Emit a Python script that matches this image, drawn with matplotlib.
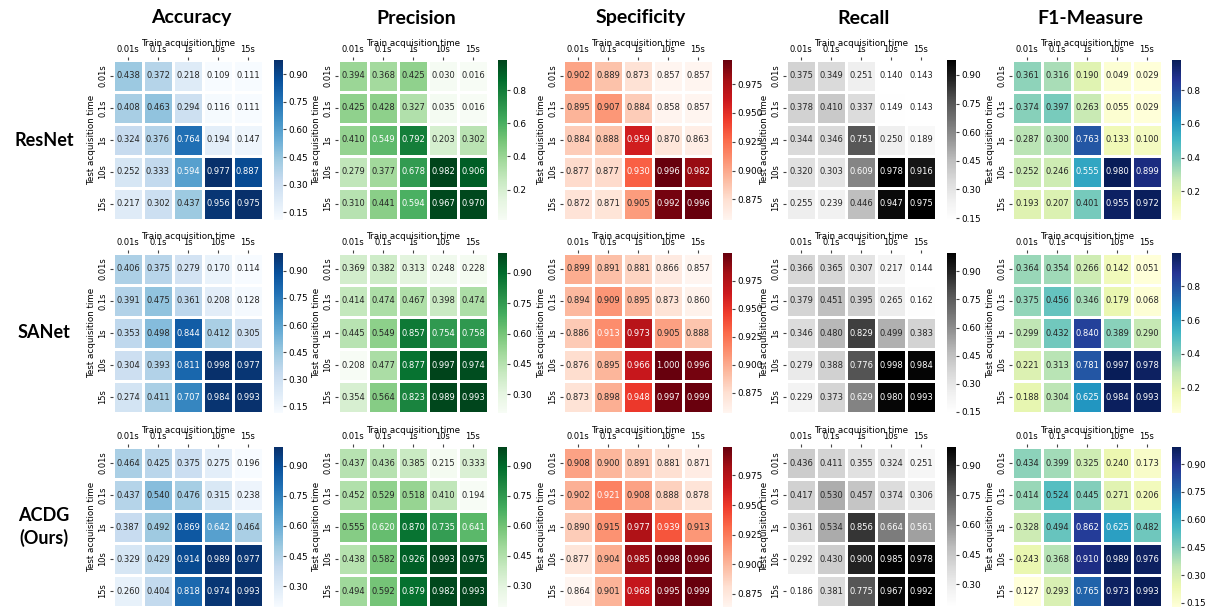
import numpy as np
import matplotlib
matplotlib.use('Agg')
import matplotlib.pyplot as plt
from matplotlib.ticker import MaxNLocator
import seaborn as sns

# ДАННЫЕ
times = ['0.01s', '0.1s', '1s', '10s', '15s']
metrics = ['Accuracy', 'Precision', 'Specificity', 'Recall', 'F1-Measure']
models = ['ResNet', 'SANet', 'ACDG\n(Ours)']
cmaps = ['Blues', 'Greens', 'Reds', 'Greys', 'YlGnBu']

resnet_acc = [[0.438, 0.372, 0.218, 0.109, 0.111],
              [0.408, 0.463, 0.294, 0.116, 0.111],
              [0.324, 0.376, 0.764, 0.194, 0.147],
              [0.252, 0.333, 0.594, 0.977, 0.887],
              [0.217, 0.302, 0.437, 0.956, 0.975]]
resnet_prec = [[0.394, 0.368, 0.425, 0.030, 0.016],
               [0.425, 0.428, 0.327, 0.035, 0.016],
               [0.410, 0.549, 0.792, 0.203, 0.302],
               [0.279, 0.377, 0.678, 0.982, 0.906],
               [0.310, 0.441, 0.594, 0.967, 0.970]]
resnet_spec = [[0.902, 0.889, 0.873, 0.857, 0.857],
               [0.895, 0.907, 0.884, 0.858, 0.857],
               [0.884, 0.888, 0.959, 0.870, 0.863],
               [0.877, 0.877, 0.930, 0.996, 0.982],
               [0.872, 0.871, 0.905, 0.992, 0.996]]
resnet_rec = [[0.375, 0.349, 0.251, 0.140, 0.143],
              [0.378, 0.410, 0.337, 0.149, 0.143],
              [0.344, 0.346, 0.751, 0.250, 0.189],
              [0.320, 0.303, 0.609, 0.978, 0.916],
              [0.255, 0.239, 0.446, 0.947, 0.975]]
resnet_f1 = [[0.361, 0.316, 0.190, 0.049, 0.029],
             [0.374, 0.397, 0.263, 0.055, 0.029],
             [0.287, 0.300, 0.763, 0.133, 0.100],
             [0.252, 0.246, 0.555, 0.980, 0.899],
             [0.193, 0.207, 0.401, 0.955, 0.972]]

sanet_acc = [[0.406, 0.375, 0.279, 0.170, 0.114],
             [0.391, 0.475, 0.361, 0.208, 0.128],
             [0.353, 0.498, 0.844, 0.412, 0.305],
             [0.304, 0.393, 0.811, 0.998, 0.977],
             [0.274, 0.411, 0.707, 0.984, 0.993]]
sanet_prec = [[0.369, 0.382, 0.313, 0.248, 0.228],
              [0.414, 0.474, 0.467, 0.398, 0.474],
              [0.445, 0.549, 0.857, 0.754, 0.758],
              [0.208, 0.477, 0.877, 0.997, 0.974],
              [0.354, 0.564, 0.823, 0.989, 0.993]]
sanet_spec = [[0.899, 0.891, 0.881, 0.866, 0.857],
              [0.894, 0.909, 0.895, 0.873, 0.860],
              [0.886, 0.913, 0.973, 0.905, 0.888],
              [0.876, 0.895, 0.966, 1.000, 0.996],
              [0.873, 0.898, 0.948, 0.997, 0.999]]
sanet_rec = [[0.366, 0.365, 0.307, 0.217, 0.144],
             [0.379, 0.451, 0.395, 0.265, 0.162],
             [0.346, 0.480, 0.829, 0.499, 0.383],
             [0.279, 0.388, 0.776, 0.998, 0.984],
             [0.229, 0.373, 0.629, 0.980, 0.993]]
sanet_f1 = [[0.364, 0.354, 0.266, 0.142, 0.051],
            [0.375, 0.456, 0.346, 0.179, 0.068],
            [0.299, 0.432, 0.840, 0.389, 0.290],
            [0.221, 0.313, 0.781, 0.997, 0.978],
            [0.188, 0.304, 0.625, 0.984, 0.993]]

acdg_acc = [[0.464, 0.425, 0.375, 0.275, 0.196],
            [0.437, 0.540, 0.476, 0.315, 0.238],
            [0.387, 0.492, 0.869, 0.642, 0.464],
            [0.329, 0.429, 0.914, 0.989, 0.977],
            [0.260, 0.404, 0.818, 0.974, 0.993]]
acdg_prec = [[0.437, 0.436, 0.385, 0.215, 0.333],
             [0.452, 0.529, 0.518, 0.410, 0.194],
             [0.555, 0.620, 0.870, 0.735, 0.641],
             [0.438, 0.582, 0.926, 0.993, 0.975],
             [0.494, 0.592, 0.879, 0.982, 0.993]]
acdg_spec = [[0.908, 0.900, 0.891, 0.881, 0.871],
             [0.902, 0.921, 0.908, 0.888, 0.878],
             [0.890, 0.915, 0.977, 0.939, 0.913],
             [0.877, 0.904, 0.985, 0.998, 0.996],
             [0.864, 0.901, 0.968, 0.995, 0.999]]
acdg_rec = [[0.436, 0.411, 0.355, 0.324, 0.251],
            [0.417, 0.530, 0.457, 0.374, 0.306],
            [0.361, 0.534, 0.856, 0.664, 0.561],
            [0.292, 0.430, 0.900, 0.985, 0.978],
            [0.186, 0.381, 0.775, 0.967, 0.992]]
acdg_f1 = [[0.434, 0.399, 0.325, 0.240, 0.173],
           [0.414, 0.524, 0.445, 0.271, 0.206],
           [0.328, 0.494, 0.862, 0.625, 0.482],
           [0.243, 0.368, 0.910, 0.989, 0.976],
           [0.127, 0.293, 0.765, 0.973, 0.993]]

tables = [[resnet_acc, resnet_prec, resnet_spec, resnet_rec, resnet_f1],
          [sanet_acc, sanet_prec, sanet_spec, sanet_rec, sanet_f1],
          [acdg_acc, acdg_prec, acdg_spec, acdg_rec, acdg_f1]]

# РАЗМЕТКА (в пикселях)
W, H = 1215, 610
hm_left = [113, 338, 563, 786, 1012]
cb_left = [274, 498, 723, 947, 1172]
row_top = [60, 253, 447]
hm_w, hm_h, cb_w = 150, 160, 9


def px_axes(fig, x, y, w, h):
    return fig.add_axes([x / W, 1 - (y + h) / H, w / W, h / H])


fig = plt.figure(figsize=(W / 100, H / 100), dpi=100)
small = 6.0

for r in range(3):
    for c in range(5):
        ax = px_axes(fig, hm_left[c], row_top[r], hm_w, hm_h)
        cax = px_axes(fig, cb_left[c], row_top[r], cb_w, hm_h)
        data = np.array(tables[r][c])
        sns.heatmap(data, ax=ax, cbar_ax=cax, cmap=cmaps[c], annot=True, fmt='.3f',
                    linewidths=1, linecolor='white', annot_kws={'size': small},
                    xticklabels=times, yticklabels=times)
        ax.xaxis.tick_top()
        ax.xaxis.set_label_position('top')
        ax.set_xlabel('Train acquisition time', fontsize=small + 0.3, labelpad=-0.5)
        ax.set_ylabel('Test acquisition time', fontsize=small + 0.3, labelpad=2)
        ax.tick_params(axis='both', labelsize=small, length=2.5, pad=1.5, color='#444444')
        plt.setp(ax.get_yticklabels(), rotation=90, va='center')
        plt.setp(ax.get_xticklabels(), rotation=0)
        cbar = ax.collections[0].colorbar
        loc = MaxNLocator(nbins=6, steps=[1, 1.5, 2, 2.5, 5, 10])
        lo, hi = data.min(), data.max()
        # только метки внутри шкалы, без самого края
        ticks = [t for t in loc.tick_values(lo, hi) if lo - 1e-9 <= t < hi - 1e-6]
        cbar.set_ticks(ticks)
        cbar.outline.set_linewidth(0)
        cax.tick_params(labelsize=small + 0.4, length=2.5, pad=1.5, color='#444444')

# ЗАГОЛОВКИ
for c in range(5):
    fig.text((hm_left[c] + hm_w / 2 + 3) / W, 1 - 18 / H, metrics[c], ha='center', va='center',
             fontsize=14, fontweight='bold', family='Lato')
for r in range(3):
    fig.text(44 / W, 1 - (row_top[r] + 80) / H, models[r], ha='center', va='center',
             fontsize=13, fontweight='bold', family='Lato', linespacing=1.3)

fig.savefig('out.png', dpi=100)
